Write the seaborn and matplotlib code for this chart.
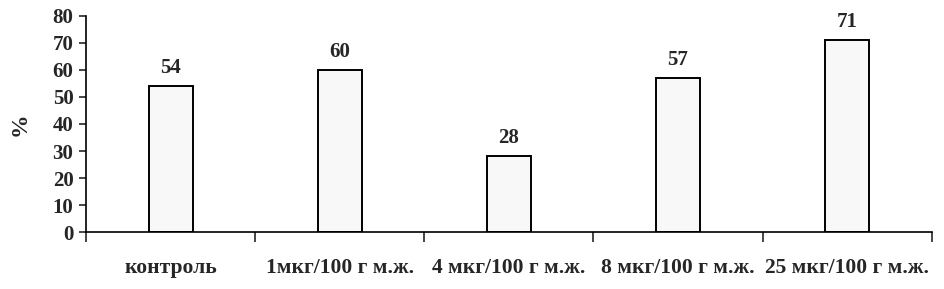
import matplotlib
matplotlib.use("Agg")
import matplotlib.pyplot as plt
import seaborn as sns
import pandas as pd

categories = ["контроль", "1мкг/100 г м.ж.", "4 мкг/100 г м.ж.", "8 мкг/100 г м.ж.", "25 мкг/100 г м.ж."]
values = [54, 60, 28, 57, 71]
y_ticks = [0, 10, 20, 30, 40, 50, 60, 70, 80]
y_label = "%"

sns.set_style("white")
plt.rcParams["font.family"] = ["Liberation Serif", "DejaVu Serif"]
plt.rcParams["font.weight"] = "bold"

df = pd.DataFrame({"cat": categories, "val": values})

fig = plt.figure(figsize=(9.45, 2.89), dpi=100)
ax = fig.add_axes([0.091, 0.197, 0.895, 0.748])
sns.barplot(data=df, x="cat", y="val", ax=ax, color="#f8f8f8", width=0.26,
            edgecolor="black", linewidth=1.4, saturation=1)

ax.set_ylim(0, 80)
ax.set_xlim(-0.5, len(categories) - 0.5)
ax.set_yticks(y_ticks)
ax.set_yticklabels([str(t) for t in y_ticks], fontsize=15, fontweight="bold")
ax.tick_params(axis="y", direction="out", length=5, width=1.2, pad=4, left=True)

ax.set_xticks([i - 0.5 for i in range(len(categories) + 1)])
ax.set_xticklabels([])
ax.set_xticks(range(len(categories)), minor=True)
ax.set_xticklabels(categories, minor=True, fontsize=15.5, fontweight="bold")
ax.tick_params(axis="x", which="major", direction="out", length=7, width=1.2, bottom=True)
ax.tick_params(axis="x", which="minor", length=0, pad=19)

ax.set_xlabel("")
ax.set_ylabel(y_label, fontsize=17, fontweight="bold", labelpad=16)

for s in ["top", "right"]:
    ax.spines[s].set_visible(False)
for s in ["left", "bottom"]:
    ax.spines[s].set_linewidth(1.2)
    ax.spines[s].set_color("black")

for i, v in enumerate(values):
    ax.annotate(str(v), (i, v), xytext=(0, 6), textcoords="offset points",
                ha="center", va="bottom", fontsize=15, fontweight="bold")

fig.savefig("out.png", dpi=100, facecolor="white")
